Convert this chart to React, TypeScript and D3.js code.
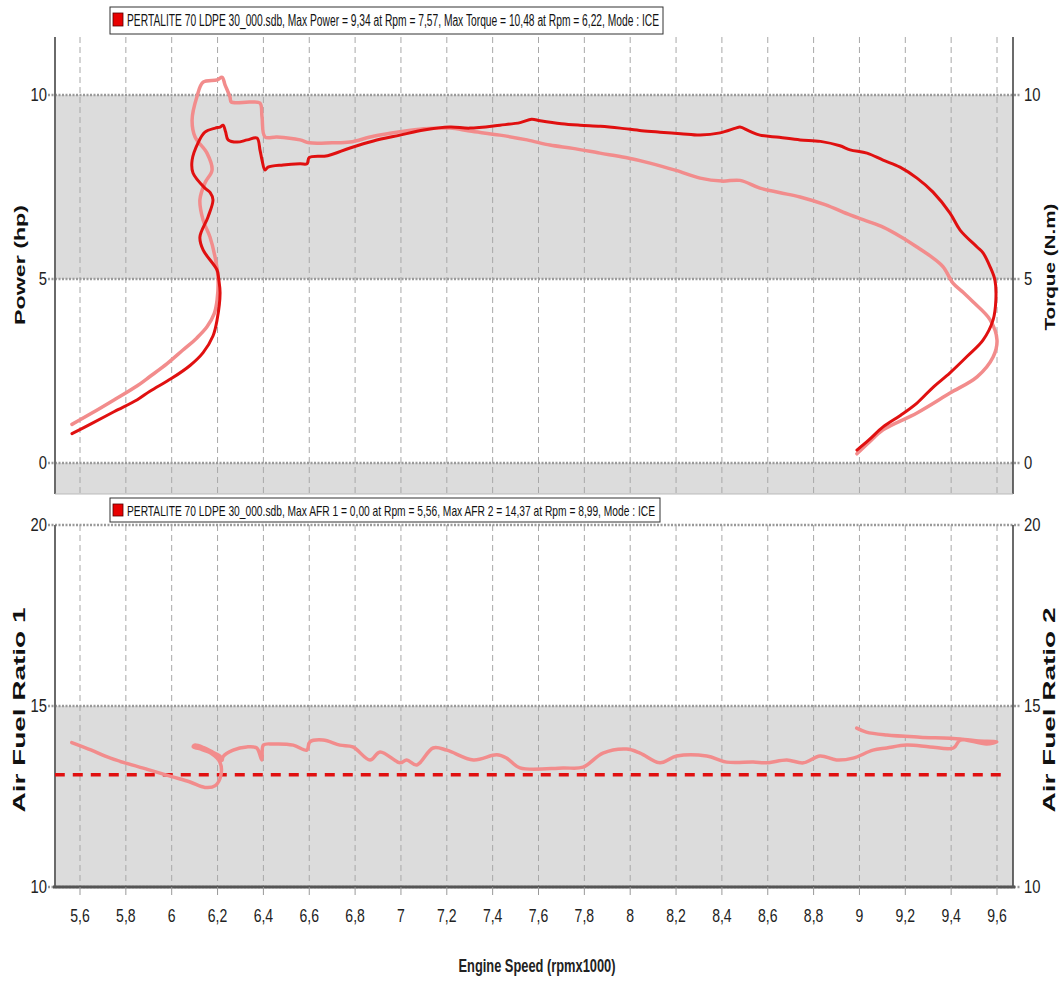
import React from "react";
import * as d3 from "d3";

// ---------- DATA ----------
const xTickValues = [5.6, 5.8, 6.0, 6.2, 6.4, 6.6, 6.8, 7.0, 7.2, 7.4, 7.6, 7.8, 8.0, 8.2, 8.4, 8.6, 8.8, 9.0, 9.2, 9.4, 9.6];
const topTickValues = [0, 5, 10];
const bottomTickValues = [10, 15, 20];

const powerRpm = [5.565, 5.65, 5.75, 5.85, 5.905, 6.0, 6.08, 6.137, 6.18, 6.198, 6.211, 6.205, 6.198, 6.137, 6.123, 6.158, 6.18, 6.168, 6.145, 6.093, 6.089, 6.115, 6.145, 6.19, 6.211, 6.224, 6.235, 6.246, 6.285, 6.33, 6.372, 6.385, 6.394, 6.407, 6.42, 6.486, 6.56, 6.59, 6.6, 6.68, 6.778, 6.88, 6.996, 7.1, 7.214, 7.3, 7.432, 7.52, 7.57, 7.607, 7.7, 7.781, 7.87, 7.956, 8.05, 8.13, 8.22, 8.305, 8.392, 8.46, 8.479, 8.52, 8.566, 8.65, 8.741, 8.83, 8.915, 8.959, 9.033, 9.103, 9.177, 9.251, 9.321, 9.395, 9.439, 9.513, 9.539, 9.57, 9.591, 9.595, 9.583, 9.539, 9.47, 9.395, 9.32, 9.251, 9.18, 9.103, 9.04, 8.989];
const powerHp = [0.8, 1.07, 1.4, 1.72, 1.95, 2.3, 2.65, 3.0, 3.45, 3.89, 4.62, 5.0, 5.24, 5.79, 6.14, 6.68, 7.15, 7.35, 7.47, 7.88, 8.23, 8.7, 8.99, 9.1, 9.13, 9.18, 9.0, 8.78, 8.72, 8.78, 8.83, 8.51, 8.23, 7.96, 8.04, 8.1, 8.13, 8.13, 8.3, 8.35, 8.56, 8.75, 8.91, 9.05, 9.13, 9.1, 9.18, 9.25, 9.34, 9.3, 9.22, 9.18, 9.15, 9.1, 9.03, 8.99, 8.95, 8.91, 8.97, 9.1, 9.13, 9.02, 8.91, 8.85, 8.78, 8.74, 8.62, 8.51, 8.42, 8.23, 8.04, 7.74, 7.36, 6.79, 6.33, 5.87, 5.71, 5.33, 4.97, 4.43, 3.89, 3.34, 2.9, 2.45, 2.05, 1.63, 1.3, 0.98, 0.62, 0.35];

const torqueRpm = [5.565, 5.65, 5.75, 5.85, 5.905, 5.98, 6.049, 6.11, 6.154, 6.185, 6.198, 6.202, 6.189, 6.167, 6.137, 6.123, 6.145, 6.176, 6.154, 6.102, 6.089, 6.11, 6.137, 6.198, 6.22, 6.233, 6.254, 6.26, 6.342, 6.385, 6.394, 6.407, 6.459, 6.56, 6.6, 6.7, 6.778, 6.88, 6.996, 7.1, 7.214, 7.3, 7.432, 7.55, 7.65, 7.75, 7.868, 7.98, 8.086, 8.2, 8.305, 8.4, 8.479, 8.566, 8.65, 8.741, 8.85, 8.959, 9.03, 9.103, 9.18, 9.251, 9.31, 9.365, 9.408, 9.45, 9.495, 9.57, 9.6, 9.583, 9.513, 9.395, 9.251, 9.103, 9.04, 8.989];
const torqueNm = [1.05, 1.35, 1.72, 2.1, 2.35, 2.7, 3.07, 3.4, 3.7, 4.05, 4.43, 5.05, 5.6, 6.14, 6.6, 7.15, 7.61, 7.96, 8.42, 8.86, 9.32, 9.95, 10.35, 10.41, 10.48, 10.27, 9.95, 9.81, 9.81, 9.78, 9.4, 8.86, 8.86, 8.78, 8.7, 8.7, 8.72, 8.88, 9.0, 9.08, 9.1, 9.02, 8.91, 8.78, 8.64, 8.55, 8.42, 8.3, 8.15, 7.95, 7.74, 7.66, 7.68, 7.47, 7.35, 7.23, 7.02, 6.74, 6.58, 6.41, 6.15, 5.87, 5.62, 5.33, 4.89, 4.65, 4.38, 3.89, 3.34, 2.88, 2.34, 1.9, 1.36, 0.9, 0.55, 0.25];

const afr1Rpm = [5.49, 9.63];
const afr1Values = [13.1, 13.1];

const afr2Rpm = [5.564, 5.65, 5.716, 5.8, 5.905, 6.0, 6.08, 6.145, 6.19, 6.215, 6.21, 6.17, 6.12, 6.094, 6.1, 6.14, 6.18, 6.21, 6.22, 6.224, 6.268, 6.327, 6.371, 6.393, 6.4, 6.443, 6.53, 6.589, 6.603, 6.66, 6.734, 6.79, 6.865, 6.909, 6.996, 7.025, 7.069, 7.14, 7.2, 7.316, 7.418, 7.461, 7.519, 7.707, 7.794, 7.881, 7.985, 8.043, 8.13, 8.203, 8.334, 8.421, 8.537, 8.595, 8.683, 8.755, 8.828, 8.9, 8.972, 9.059, 9.119, 9.206, 9.308, 9.41, 9.439, 9.52, 9.599, 9.555, 9.44, 9.264, 9.119, 9.03, 8.988];
const afr2Values = [13.99, 13.78, 13.6, 13.42, 13.23, 13.05, 12.9, 12.75, 12.8, 13.1, 13.45, 13.7, 13.82, 13.87, 13.92, 13.85, 13.72, 13.62, 13.5, 13.6, 13.78, 13.87, 13.84, 13.51, 13.92, 13.95, 13.92, 13.78, 14.01, 14.06, 13.92, 13.87, 13.51, 13.73, 13.43, 13.51, 13.37, 13.84, 13.78, 13.51, 13.65, 13.56, 13.29, 13.29, 13.31, 13.7, 13.81, 13.7, 13.43, 13.62, 13.62, 13.45, 13.45, 13.43, 13.51, 13.43, 13.62, 13.51, 13.56, 13.78, 13.84, 13.92, 13.87, 13.84, 14.06, 14.03, 14.01, 13.95, 14.09, 14.14, 14.2, 14.28, 14.39];

const legendTop = "PERTALITE 70  LDPE 30_000.sdb, Max Power = 9,34 at Rpm = 7,57, Max Torque = 10,48 at Rpm = 6,22, Mode : ICE";
const legendBottom = "PERTALITE 70  LDPE 30_000.sdb, Max AFR 1 = 0,00 at Rpm = 5,56, Max AFR 2 = 14,37 at Rpm = 8,99, Mode : ICE";

// ---------- LAYOUT ----------
const W = 1063, H = 985;
const X0 = 55, X1 = 1013;
const T0 = 37, T1 = 494;
const B0 = 525, B1 = 887;
const SANS = "'Liberation Sans',Arial,sans-serif";
const DARK = "#e01010";
const LIGHT = "#f28c8c";
const GRAY = "#dcdcdc";
const NARROW_SCALE = 0.78;

const fmt = (v: number) => String(Math.round(v * 10) / 10).replace(".", ",");

function NarrowText(props: { x: number; y: number; anchor: string; size: number; text: string; baseline?: string; weight?: string }) {
  const { x, y, anchor, size, text, baseline, weight } = props;
  return (
    <g transform={`translate(${x},${y}) scale(${NARROW_SCALE},1)`}>
      <text x={0} y={0} textAnchor={anchor} dominantBaseline={baseline || "auto"} fontFamily={SANS} fontSize={size} fontWeight={weight || "normal"} fill="#222">{text}</text>
    </g>
  );
}

export default function App() {
  const x = d3.scaleLinear().domain([5.6, 9.6]).range([80, 997]);
  const yTop = d3.scaleLinear().domain([0, 10]).range([463, 95]);
  const yBot = d3.scaleLinear().domain([10, 20]).range([887, 525]);

  const topLine = d3.line<[number, number]>().x(d => x(d[0])).y(d => yTop(d[1])).curve(d3.curveCatmullRom.alpha(0.5));
  const botLine = d3.line<[number, number]>().x(d => x(d[0])).y(d => yBot(d[1])).curve(d3.curveCatmullRom.alpha(0.5));
  const straight = d3.line<[number, number]>().x(d => x(d[0])).y(d => yBot(d[1]));

  const powerPts = powerRpm.map((r, i) => [r, powerHp[i]] as [number, number]);
  const torquePts = torqueRpm.map((r, i) => [r, torqueNm[i]] as [number, number]);
  const afr1Pts = afr1Rpm.map((r, i) => [r, afr1Values[i]] as [number, number]);
  const afr2Pts = afr2Rpm.map((r, i) => [r, afr2Values[i]] as [number, number]);

  const topBands = [[-5, 0], [5, 10]];
  const botBands = [[10, 15]];

  const gridStyle = { stroke: "#a8a8a8", strokeWidth: 1, strokeDasharray: "6,4" };
  const hGridStyle = { stroke: "#9a9a9a", strokeWidth: 2.5, strokeDasharray: "2,1.5" };

  return (
    <svg width={W} height={H} style={{ position: "absolute", left: 0, top: 0, background: "#fff" }}>
      <defs>
        <clipPath id="clipTop"><rect x={X0} y={T0} width={X1 - X0} height={T1 - T0} /></clipPath>
        <clipPath id="clipBot"><rect x={X0} y={B0} width={X1 - X0} height={B1 - B0} /></clipPath>
      </defs>

      {/* bands */}
      <g clipPath="url(#clipTop)">
        {topBands.map((b, i) => (
          <rect key={i} x={X0} width={X1 - X0} y={yTop(b[1])} height={yTop(b[0]) - yTop(b[1])} fill={GRAY} />
        ))}
      </g>
      <g clipPath="url(#clipBot)">
        {botBands.map((b, i) => (
          <rect key={i} x={X0} width={X1 - X0} y={yBot(b[1])} height={yBot(b[0]) - yBot(b[1])} fill={GRAY} />
        ))}
      </g>

      {/* vertical grid */}
      {xTickValues.map((t, i) => (
        <g key={i}>
          <line x1={x(t)} x2={x(t)} y1={T0} y2={T1} style={gridStyle} />
          <line x1={x(t)} x2={x(t)} y1={B0} y2={B1} style={gridStyle} />
        </g>
      ))}

      {/* horizontal grid */}
      {topTickValues.map((t, i) => (
        <line key={i} x1={48} x2={1021} y1={yTop(t)} y2={yTop(t)} style={hGridStyle} />
      ))}
      {bottomTickValues.map((t, i) => (
        <line key={i} x1={48} x2={1021} y1={yBot(t)} y2={yBot(t)} style={hGridStyle} />
      ))}

      {/* axes */}
      <line x1={X0} x2={X0} y1={T0} y2={T1} stroke="#6a6a6a" strokeWidth={2} />
      <line x1={X1} x2={X1} y1={T0} y2={T1} stroke="#3a3a3a" strokeWidth={1.5} />
      <line x1={X0} x2={X1} y1={T1} y2={T1} stroke="#bbbbbb" strokeWidth={1} />
      <line x1={X0} x2={X0} y1={B0} y2={B1} stroke="#6a6a6a" strokeWidth={2} />
      <line x1={X1} x2={X1} y1={B0} y2={B1} stroke="#3a3a3a" strokeWidth={1.5} />
      <line x1={X0 - 2} x2={X1 + 2} y1={B1} y2={B1} stroke="#555" strokeWidth={3} />
      {xTickValues.map((t, i) => (
        <line key={i} x1={x(t)} x2={x(t)} y1={B1} y2={B1 + 8} stroke="#999" strokeWidth={1} />
      ))}

      {/* tick labels */}
      {topTickValues.map((t, i) => (
        <g key={i}>
          <NarrowText x={47} y={yTop(t)} anchor="end" baseline="central" size={19} text={String(t)} />
          <NarrowText x={1024} y={yTop(t)} anchor="start" baseline="central" size={19} text={String(t)} />
        </g>
      ))}
      {bottomTickValues.map((t, i) => (
        <g key={i}>
          <NarrowText x={47} y={yBot(t)} anchor="end" baseline="central" size={19} text={String(t)} />
          <NarrowText x={1024} y={yBot(t)} anchor="start" baseline="central" size={19} text={String(t)} />
        </g>
      ))}
      {xTickValues.map((t, i) => (
        <NarrowText key={i} x={x(t)} y={922} anchor="middle" size={18} text={fmt(t)} />
      ))}

      {/* curves */}
      <g clipPath="url(#clipTop)" fill="none" strokeLinejoin="round" strokeLinecap="round">
        <path d={topLine(torquePts) || ""} stroke={LIGHT} strokeWidth={3.5} />
        <path d={topLine(powerPts) || ""} stroke={DARK} strokeWidth={3} />
      </g>
      <g clipPath="url(#clipBot)" fill="none" strokeLinejoin="round" strokeLinecap="round">
        <path d={straight(afr1Pts) || ""} stroke={DARK} strokeWidth={3.5} strokeDasharray="10,8" strokeLinecap="butt" />
        <path d={botLine(afr2Pts) || ""} stroke={LIGHT} strokeWidth={3.5} />
      </g>

      {/* legends */}
      <g>
        <rect x={110} y={7} width={553} height={27} fill="#fff" stroke="#333" strokeWidth={1} />
        <rect x={113} y={13} width={10} height={13} fill="#e80000" stroke="#500" strokeWidth={0.8} />
        <text x={127} y={26} fontFamily={SANS} fontSize={16} fill="#111" textLength={532} lengthAdjust="spacingAndGlyphs">{legendTop}</text>
      </g>
      <g>
        <rect x={110} y={498} width={550} height={24} fill="#fff" stroke="#333" strokeWidth={1} />
        <rect x={113} y={504} width={10} height={12} fill="#e80000" stroke="#500" strokeWidth={0.8} />
        <text x={127} y={515.5} fontFamily={SANS} fontSize={15} fill="#111" textLength={528} lengthAdjust="spacingAndGlyphs">{legendBottom}</text>
      </g>

      {/* axis titles */}
      <g fontFamily={SANS} fontWeight="bold" fontSize={15} fill="#111">
        <text transform="translate(19,265) rotate(-90)" textAnchor="middle" dominantBaseline="central" textLength={120} lengthAdjust="spacingAndGlyphs">Power (hp)</text>
        <text transform="translate(1049,267) rotate(-90)" textAnchor="middle" dominantBaseline="central" textLength={127} lengthAdjust="spacingAndGlyphs">Torque (N.m)</text>
        <text transform="translate(19,710) rotate(-90)" textAnchor="middle" dominantBaseline="central" fontSize={17} textLength={205} lengthAdjust="spacingAndGlyphs">Air Fuel Ratio 1</text>
        <text transform="translate(1049,710) rotate(-90)" textAnchor="middle" dominantBaseline="central" fontSize={17} textLength={205} lengthAdjust="spacingAndGlyphs">Air Fuel Ratio 2</text>
      </g>
      <text x={537} y={972} textAnchor="middle" fontFamily={SANS} fontWeight="bold" fontSize={18} fill="#222" textLength={157} lengthAdjust="spacingAndGlyphs">Engine Speed (rpmx1000)</text>
    </svg>
  );
}
